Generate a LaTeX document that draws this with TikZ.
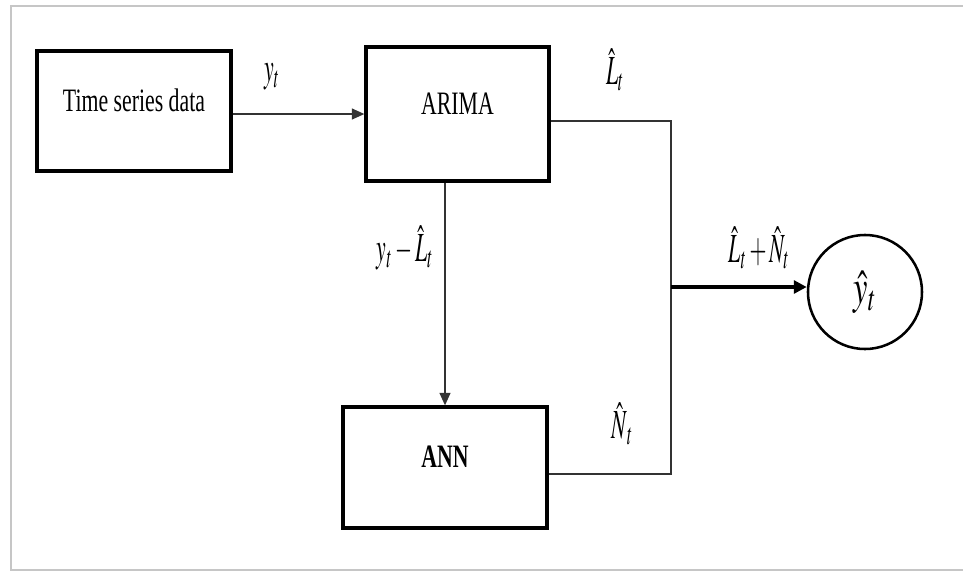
\documentclass[tikz,border=0pt]{standalone}
\usepackage{mathptmx}
\usepackage[no-math]{fontspec}
\setmainfont{Liberation Serif}
\usepackage{graphicx}
\usetikzlibrary{arrows.meta}

\begin{document}
\begin{tikzpicture}[
            x=0.025cm,y=-0.025cm,
            block/.style={
                draw,rectangle,line width=2.3pt,
                text height=0.4cm,text depth=0.4cm,
                font=\fontsize{15.5}{18}\selectfont
            },
            wire/.style={draw=black!80,line width=1.1pt},
            lbl/.style={inner sep=0pt,font=\fontsize{15.5}{18}\selectfont},
            >={Triangle[length=3.1mm,width=2.7mm]}
        ]
    \useasboundingbox (0,0) rectangle (963,574);
    % Frame
        \draw[gray!45,line width=1.3pt] (970,6) -- (11,6) -- (11,570) -- (970,570);
    % Blocks
        \node[block,minimum width=4.85cm,minimum height=3cm] (ts) at (134,111) {\scalebox{1}[1.5]{Time series data}};
        \node[block,minimum width=4.575cm,minimum height=3.35cm] (arima) at (457.5,114) {\scalebox{1}[1.5]{ARIMA}};
        \node[block,minimum width=5.1cm,minimum height=3.025cm] (ann) at (445,467.5) {\scalebox{1}[1.5]{\textbf{ANN}}};
        \node[draw,circle,line width=1.8pt,minimum size=2.85cm,
            font=\fontsize{23}{25}\selectfont] (out) at (865,292) {\scalebox{1}[1.5]{$\hat{y}_t$}};
    % Junctions
        \coordinate (jtop) at (671,121);
        \coordinate (jmid) at (671,287);
        \coordinate (jbot) at (671,474);
    % Connections
        \draw[wire,->] (ts.east |- arima) -- (arima.west);
        \draw[wire,->] (ann.north |- arima.south) -- (ann.north);
        \draw[wire] (arima.east |- jtop) -- (jtop) -- (jbot) -- (ann.east |- jbot);
        \draw[line width=2.2pt,->,>={Triangle[length=3.2mm,width=3.2mm]}] (jmid) -- (jmid -| out.west);
    % Labels
        \node[lbl] (l-yt) at (272,77) {\scalebox{1}[1.9]{$y_t$}};
        \node[lbl] (l-lt) at (615,70) {\scalebox{1}[1.9]{$\hat{L}_t$}};
        \node[lbl] (l-res) at (405,248) {\scalebox{1}[1.9]{$y_t-\hat{L}_t$}};
        \node[lbl] (l-sum) at (759,248) {\scalebox{1}[1.9]{$\hat{L}_t+\hat{N}_t$}};
        \node[lbl] (l-nt) at (622,424) {\scalebox{1}[1.9]{$\hat{N}_{\,t}$}};
\end{tikzpicture}
\end{document}
